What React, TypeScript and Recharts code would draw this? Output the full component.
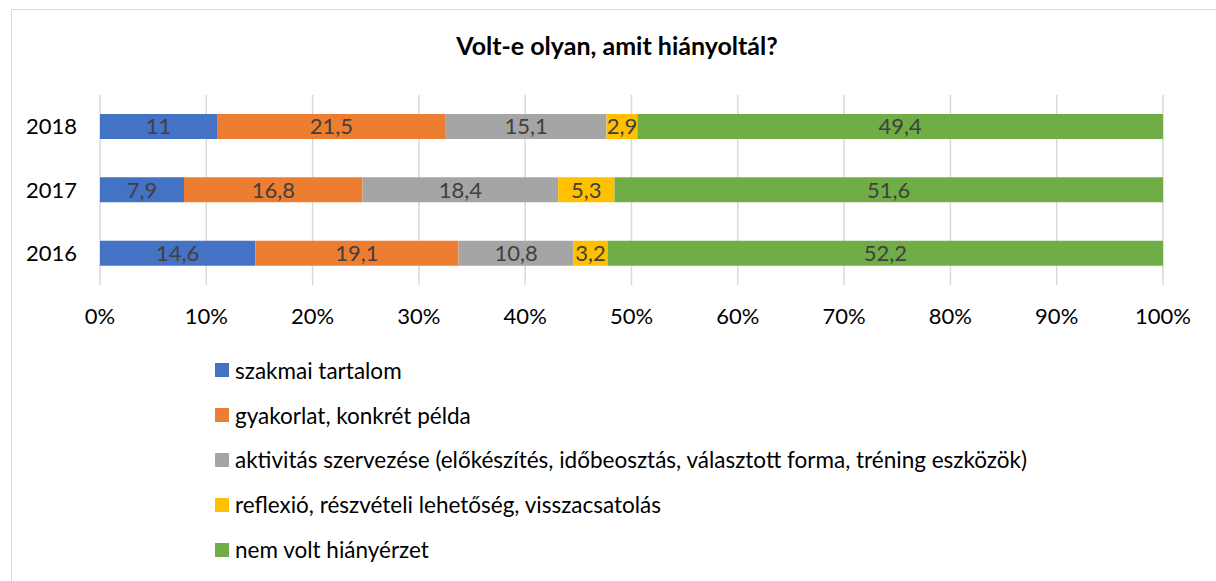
import { BarChart, Bar, XAxis, YAxis, CartesianGrid, LabelList } from "recharts";

const YEARS = ["2018", "2017", "2016"];
const SZAKMAI = [11, 7.9, 14.6];
const GYAKORLAT = [21.5, 16.8, 19.1];
const AKTIVITAS = [15.1, 18.4, 10.8];
const REFLEXIO = [2.9, 5.3, 3.2];
const NEM_VOLT = [49.4, 51.6, 52.2];
const X_TICKS = [0, 0.1, 0.2, 0.3, 0.4, 0.5, 0.6, 0.7, 0.8, 0.9, 1];

const SERIES = [
  { key: "szakmai", name: "szakmai tartalom", color: "#4472C4" },
  { key: "gyakorlat", name: "gyakorlat, konkrét példa", color: "#ED7D31" },
  {
    key: "aktivitas",
    name: "aktivitás szervezése (előkészítés, időbeosztás, választott forma, tréning eszközök)",
    color: "#A5A5A5",
  },
  { key: "reflexio", name: "reflexió, részvételi lehetőség, visszacsatolás", color: "#FFC000" },
  { key: "nemVolt", name: "nem volt hiányérzet", color: "#70AD47" },
];

const data = YEARS.map((year, i) => ({
  year,
  szakmai: SZAKMAI[i],
  gyakorlat: GYAKORLAT[i],
  aktivitas: AKTIVITAS[i],
  reflexio: REFLEXIO[i],
  nemVolt: NEM_VOLT[i],
}));

const FONT = "Lato, 'Noto Sans', sans-serif";

const fmt = (v: number | string) => String(v).replace(".", ",");

export default function App() {
  return (
    <div
      style={{
        position: "absolute",
        left: 0,
        top: 0,
        width: 1216,
        height: 581,
        overflow: "hidden",
        background: "#fff",
        fontFamily: FONT,
      }}
    >
      <div
        style={{
          position: "absolute",
          left: 11,
          top: 9,
          width: 1300,
          height: 700,
          border: "1px solid #d9d9d9",
        }}
      />
      <div
        style={{
          position: "absolute",
          left: 0,
          top: 30,
          width: 1234,
          textAlign: "center",
          fontWeight: 700,
          fontSize: 25,
          color: "#000",
        }}
      >
        Volt-e olyan, amit hiányoltál?
      </div>
      <div style={{ position: "absolute", left: 0, top: 0 }}>
        <BarChart
          width={1216}
          height={581}
          data={data}
          layout="vertical"
          stackOffset="expand"
          barSize={25}
          margin={{ top: 95, right: 53, bottom: 266, left: 0 }}
        >
          <CartesianGrid horizontal={false} vertical stroke="#d9d9d9" strokeWidth={1.5} />
          <XAxis
            type="number"
            domain={[0, 1]}
            ticks={X_TICKS}
            tickFormatter={(v: number) => `${Math.round(v * 100)}%`}
            axisLine={false}
            tickLine={false}
            tickSize={0}
            tickMargin={23}
            height={30}
            tick={{ fill: "#000", fontSize: 22, fontFamily: FONT }}
          />
          <YAxis
            type="category"
            dataKey="year"
            axisLine={false}
            tickLine={false}
            tickSize={0}
            tickMargin={23}
            width={100}
            tick={{ fill: "#000", fontSize: 22, fontFamily: FONT }}
          />
          {SERIES.map((s) => (
            <Bar
              key={s.key}
              dataKey={s.key}
              name={s.name}
              stackId="a"
              fill={s.color}
              isAnimationActive={false}
            >
              <LabelList
                dataKey={s.key}
                position="center"
                formatter={fmt}
                fill="#404040"
                fontSize={22}
                fontFamily={FONT}
              />
            </Bar>
          ))}
        </BarChart>
      </div>
      <div style={{ position: "absolute", left: 215, top: 348 }}>
        {SERIES.map((s) => (
          <div
            key={s.key}
            style={{
              display: "flex",
              alignItems: "center",
              height: 44.8,
              fontSize: 22.5,
              color: "#000",
              whiteSpace: "nowrap",
            }}
          >
            <span
              style={{
                display: "inline-block",
                width: 14,
                height: 14,
                background: s.color,
                marginRight: 6,
              }}
            />
            {s.name}
          </div>
        ))}
      </div>
    </div>
  );
}
